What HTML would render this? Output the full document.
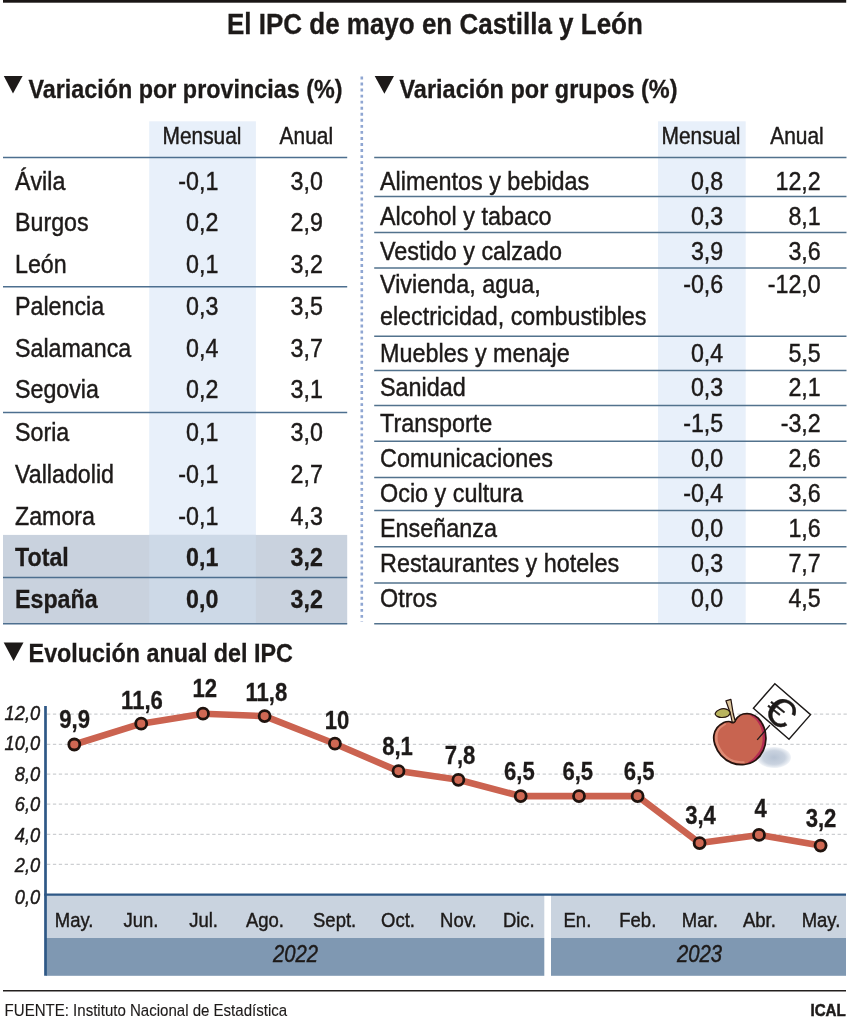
<!DOCTYPE html>
<html lang="es"><head><meta charset="utf-8"><title>El IPC de mayo en Castilla y León</title>
<style>
html,body{margin:0;padding:0;background:#fff}
svg{display:block;font-family:"Liberation Sans",sans-serif}
text{white-space:pre}
</style></head><body>
<svg width="850" height="1024" viewBox="0 0 850 1024">
<rect width="850" height="1024" fill="#fff"/>
<rect x="3" y="0" width="843.2" height="2.7" fill="#1a1615"/>
<text transform="translate(434.9 34.1) scale(0.887 1)" font-size="29.3" text-anchor="middle" fill="#1d1a19" font-weight="bold" stroke="#1d1a19" stroke-width="0.3">El IPC de mayo en Castilla y León</text>
<path d="M3.8 76 L22.6 76 L13 93.6 Z" fill="#1d1a19" stroke="none" stroke-width="0"/>
<text transform="translate(28.4 97.5) scale(0.882 1)" font-size="26.5" text-anchor="start" fill="#1d1a19" font-weight="bold" stroke="#1d1a19" stroke-width="0.3">Variación por provincias (%)</text>
<rect x="149.2" y="121.3" width="106.7" height="414" fill="#e8f0fa"/>
<rect x="3" y="534.9" width="344.2" height="89" fill="#c9d2de"/>
<rect x="149.2" y="534.9" width="106.7" height="89" fill="#cdd9e7"/>
<text transform="translate(202 143.5) scale(0.89 1)" font-size="23.5" text-anchor="middle" fill="#1d1a19" stroke="#1d1a19" stroke-width="0.45">Mensual</text>
<text transform="translate(306.3 143.5) scale(0.89 1)" font-size="23.5" text-anchor="middle" fill="#1d1a19" stroke="#1d1a19" stroke-width="0.45">Anual</text>
<text transform="translate(15 189.6) scale(0.88 1)" font-size="26.4" text-anchor="start" fill="#1d1a19" stroke="#1d1a19" stroke-width="0.45">Ávila</text>
<text transform="translate(218.4 189.6) scale(0.88 1)" font-size="26.4" text-anchor="end" fill="#1d1a19" stroke="#1d1a19" stroke-width="0.45">-0,1</text>
<text transform="translate(322.9 189.6) scale(0.88 1)" font-size="26.4" text-anchor="end" fill="#1d1a19" stroke="#1d1a19" stroke-width="0.45">3,0</text>
<text transform="translate(15 231.3) scale(0.88 1)" font-size="26.4" text-anchor="start" fill="#1d1a19" stroke="#1d1a19" stroke-width="0.45">Burgos</text>
<text transform="translate(218.4 231.3) scale(0.88 1)" font-size="26.4" text-anchor="end" fill="#1d1a19" stroke="#1d1a19" stroke-width="0.45">0,2</text>
<text transform="translate(322.9 231.3) scale(0.88 1)" font-size="26.4" text-anchor="end" fill="#1d1a19" stroke="#1d1a19" stroke-width="0.45">2,9</text>
<text transform="translate(15 273.1) scale(0.88 1)" font-size="26.4" text-anchor="start" fill="#1d1a19" stroke="#1d1a19" stroke-width="0.45">León</text>
<text transform="translate(218.4 273.1) scale(0.88 1)" font-size="26.4" text-anchor="end" fill="#1d1a19" stroke="#1d1a19" stroke-width="0.45">0,1</text>
<text transform="translate(322.9 273.1) scale(0.88 1)" font-size="26.4" text-anchor="end" fill="#1d1a19" stroke="#1d1a19" stroke-width="0.45">3,2</text>
<text transform="translate(15 315) scale(0.88 1)" font-size="26.4" text-anchor="start" fill="#1d1a19" stroke="#1d1a19" stroke-width="0.45">Palencia</text>
<text transform="translate(218.4 315) scale(0.88 1)" font-size="26.4" text-anchor="end" fill="#1d1a19" stroke="#1d1a19" stroke-width="0.45">0,3</text>
<text transform="translate(322.9 315) scale(0.88 1)" font-size="26.4" text-anchor="end" fill="#1d1a19" stroke="#1d1a19" stroke-width="0.45">3,5</text>
<text transform="translate(15 356.8) scale(0.88 1)" font-size="26.4" text-anchor="start" fill="#1d1a19" stroke="#1d1a19" stroke-width="0.45">Salamanca</text>
<text transform="translate(218.4 356.8) scale(0.88 1)" font-size="26.4" text-anchor="end" fill="#1d1a19" stroke="#1d1a19" stroke-width="0.45">0,4</text>
<text transform="translate(322.9 356.8) scale(0.88 1)" font-size="26.4" text-anchor="end" fill="#1d1a19" stroke="#1d1a19" stroke-width="0.45">3,7</text>
<text transform="translate(15 398.4) scale(0.88 1)" font-size="26.4" text-anchor="start" fill="#1d1a19" stroke="#1d1a19" stroke-width="0.45">Segovia</text>
<text transform="translate(218.4 398.4) scale(0.88 1)" font-size="26.4" text-anchor="end" fill="#1d1a19" stroke="#1d1a19" stroke-width="0.45">0,2</text>
<text transform="translate(322.9 398.4) scale(0.88 1)" font-size="26.4" text-anchor="end" fill="#1d1a19" stroke="#1d1a19" stroke-width="0.45">3,1</text>
<text transform="translate(15 440.5) scale(0.88 1)" font-size="26.4" text-anchor="start" fill="#1d1a19" stroke="#1d1a19" stroke-width="0.45">Soria</text>
<text transform="translate(218.4 440.5) scale(0.88 1)" font-size="26.4" text-anchor="end" fill="#1d1a19" stroke="#1d1a19" stroke-width="0.45">0,1</text>
<text transform="translate(322.9 440.5) scale(0.88 1)" font-size="26.4" text-anchor="end" fill="#1d1a19" stroke="#1d1a19" stroke-width="0.45">3,0</text>
<text transform="translate(15 482.8) scale(0.88 1)" font-size="26.4" text-anchor="start" fill="#1d1a19" stroke="#1d1a19" stroke-width="0.45">Valladolid</text>
<text transform="translate(218.4 482.8) scale(0.88 1)" font-size="26.4" text-anchor="end" fill="#1d1a19" stroke="#1d1a19" stroke-width="0.45">-0,1</text>
<text transform="translate(322.9 482.8) scale(0.88 1)" font-size="26.4" text-anchor="end" fill="#1d1a19" stroke="#1d1a19" stroke-width="0.45">2,7</text>
<text transform="translate(15 524.9) scale(0.88 1)" font-size="26.4" text-anchor="start" fill="#1d1a19" stroke="#1d1a19" stroke-width="0.45">Zamora</text>
<text transform="translate(218.4 524.9) scale(0.88 1)" font-size="26.4" text-anchor="end" fill="#1d1a19" stroke="#1d1a19" stroke-width="0.45">-0,1</text>
<text transform="translate(322.9 524.9) scale(0.88 1)" font-size="26.4" text-anchor="end" fill="#1d1a19" stroke="#1d1a19" stroke-width="0.45">4,3</text>
<text transform="translate(15 566.4) scale(0.88 1)" font-size="26.4" text-anchor="start" fill="#1d1a19" font-weight="bold" stroke="#1d1a19" stroke-width="0.3">Total</text>
<text transform="translate(218.4 566.4) scale(0.88 1)" font-size="26.4" text-anchor="end" fill="#1d1a19" font-weight="bold" stroke="#1d1a19" stroke-width="0.3">0,1</text>
<text transform="translate(322.9 566.4) scale(0.88 1)" font-size="26.4" text-anchor="end" fill="#1d1a19" font-weight="bold" stroke="#1d1a19" stroke-width="0.3">3,2</text>
<text transform="translate(15 608.2) scale(0.88 1)" font-size="26.4" text-anchor="start" fill="#1d1a19" font-weight="bold" stroke="#1d1a19" stroke-width="0.3">España</text>
<text transform="translate(218.4 608.2) scale(0.88 1)" font-size="26.4" text-anchor="end" fill="#1d1a19" font-weight="bold" stroke="#1d1a19" stroke-width="0.3">0,0</text>
<text transform="translate(322.9 608.2) scale(0.88 1)" font-size="26.4" text-anchor="end" fill="#1d1a19" font-weight="bold" stroke="#1d1a19" stroke-width="0.3">3,2</text>
<line x1="3" y1="157.6" x2="347.2" y2="157.6" stroke="#4d6f8f" stroke-width="1.5"/>
<line x1="3" y1="286.8" x2="347.2" y2="286.8" stroke="#4d6f8f" stroke-width="1.5"/>
<line x1="3" y1="412.6" x2="347.2" y2="412.6" stroke="#4d6f8f" stroke-width="1.5"/>
<line x1="3" y1="577.5" x2="347.2" y2="577.5" stroke="#4d6f8f" stroke-width="1.5"/>
<line x1="3" y1="623.8" x2="347.2" y2="623.8" stroke="#4d6f8f" stroke-width="1.5"/>
<line x1="361.8" y1="76.5" x2="361.8" y2="621.5" stroke="#8fa6d2" stroke-width="2.6" stroke-dasharray="2.9 3.15"/>
<path d="M374.7 76 L394 76 L384.4 93.8 Z" fill="#1d1a19" stroke="none" stroke-width="0"/>
<text transform="translate(399.5 97.5) scale(0.887 1)" font-size="26.5" text-anchor="start" fill="#1d1a19" font-weight="bold" stroke="#1d1a19" stroke-width="0.3">Variación por grupos (%)</text>
<rect x="658" y="121.3" width="87.7" height="502.5" fill="#e8f0fa"/>
<text transform="translate(701 143.5) scale(0.89 1)" font-size="23.5" text-anchor="middle" fill="#1d1a19" stroke="#1d1a19" stroke-width="0.45">Mensual</text>
<text transform="translate(797 143.5) scale(0.89 1)" font-size="23.5" text-anchor="middle" fill="#1d1a19" stroke="#1d1a19" stroke-width="0.45">Anual</text>
<text transform="translate(380 190) scale(0.886 1)" font-size="26.4" text-anchor="start" fill="#1d1a19" stroke="#1d1a19" stroke-width="0.45">Alimentos y bebidas</text>
<text transform="translate(723.2 190) scale(0.88 1)" font-size="26.4" text-anchor="end" fill="#1d1a19" stroke="#1d1a19" stroke-width="0.45">0,8</text>
<text transform="translate(820.7 190) scale(0.88 1)" font-size="26.4" text-anchor="end" fill="#1d1a19" stroke="#1d1a19" stroke-width="0.45">12,2</text>
<text transform="translate(380 224.6) scale(0.886 1)" font-size="26.4" text-anchor="start" fill="#1d1a19" stroke="#1d1a19" stroke-width="0.45">Alcohol y tabaco</text>
<text transform="translate(723.2 224.6) scale(0.88 1)" font-size="26.4" text-anchor="end" fill="#1d1a19" stroke="#1d1a19" stroke-width="0.45">0,3</text>
<text transform="translate(820.7 224.6) scale(0.88 1)" font-size="26.4" text-anchor="end" fill="#1d1a19" stroke="#1d1a19" stroke-width="0.45">8,1</text>
<text transform="translate(380 259.6) scale(0.886 1)" font-size="26.4" text-anchor="start" fill="#1d1a19" stroke="#1d1a19" stroke-width="0.45">Vestido y calzado</text>
<text transform="translate(723.2 259.6) scale(0.88 1)" font-size="26.4" text-anchor="end" fill="#1d1a19" stroke="#1d1a19" stroke-width="0.45">3,9</text>
<text transform="translate(820.7 259.6) scale(0.88 1)" font-size="26.4" text-anchor="end" fill="#1d1a19" stroke="#1d1a19" stroke-width="0.45">3,6</text>
<text transform="translate(380 293.2) scale(0.886 1)" font-size="26.4" text-anchor="start" fill="#1d1a19" stroke="#1d1a19" stroke-width="0.45">Vivienda, agua,</text>
<text transform="translate(723.2 293.2) scale(0.88 1)" font-size="26.4" text-anchor="end" fill="#1d1a19" stroke="#1d1a19" stroke-width="0.45">-0,6</text>
<text transform="translate(820.7 293.2) scale(0.88 1)" font-size="26.4" text-anchor="end" fill="#1d1a19" stroke="#1d1a19" stroke-width="0.45">-12,0</text>
<text transform="translate(380 325.2) scale(0.882 1)" font-size="26.4" text-anchor="start" fill="#1d1a19" stroke="#1d1a19" stroke-width="0.45">electricidad, combustibles</text>
<text transform="translate(380 361.7) scale(0.886 1)" font-size="26.4" text-anchor="start" fill="#1d1a19" stroke="#1d1a19" stroke-width="0.45">Muebles y menaje</text>
<text transform="translate(723.2 361.7) scale(0.88 1)" font-size="26.4" text-anchor="end" fill="#1d1a19" stroke="#1d1a19" stroke-width="0.45">0,4</text>
<text transform="translate(820.7 361.7) scale(0.88 1)" font-size="26.4" text-anchor="end" fill="#1d1a19" stroke="#1d1a19" stroke-width="0.45">5,5</text>
<text transform="translate(380 396.4) scale(0.886 1)" font-size="26.4" text-anchor="start" fill="#1d1a19" stroke="#1d1a19" stroke-width="0.45">Sanidad</text>
<text transform="translate(723.2 396.4) scale(0.88 1)" font-size="26.4" text-anchor="end" fill="#1d1a19" stroke="#1d1a19" stroke-width="0.45">0,3</text>
<text transform="translate(820.7 396.4) scale(0.88 1)" font-size="26.4" text-anchor="end" fill="#1d1a19" stroke="#1d1a19" stroke-width="0.45">2,1</text>
<text transform="translate(380 431.8) scale(0.886 1)" font-size="26.4" text-anchor="start" fill="#1d1a19" stroke="#1d1a19" stroke-width="0.45">Transporte</text>
<text transform="translate(723.2 431.8) scale(0.88 1)" font-size="26.4" text-anchor="end" fill="#1d1a19" stroke="#1d1a19" stroke-width="0.45">-1,5</text>
<text transform="translate(820.7 431.8) scale(0.88 1)" font-size="26.4" text-anchor="end" fill="#1d1a19" stroke="#1d1a19" stroke-width="0.45">-3,2</text>
<text transform="translate(380 466.6) scale(0.886 1)" font-size="26.4" text-anchor="start" fill="#1d1a19" stroke="#1d1a19" stroke-width="0.45">Comunicaciones</text>
<text transform="translate(723.2 466.6) scale(0.88 1)" font-size="26.4" text-anchor="end" fill="#1d1a19" stroke="#1d1a19" stroke-width="0.45">0,0</text>
<text transform="translate(820.7 466.6) scale(0.88 1)" font-size="26.4" text-anchor="end" fill="#1d1a19" stroke="#1d1a19" stroke-width="0.45">2,6</text>
<text transform="translate(380 502) scale(0.886 1)" font-size="26.4" text-anchor="start" fill="#1d1a19" stroke="#1d1a19" stroke-width="0.45">Ocio y cultura</text>
<text transform="translate(723.2 502) scale(0.88 1)" font-size="26.4" text-anchor="end" fill="#1d1a19" stroke="#1d1a19" stroke-width="0.45">-0,4</text>
<text transform="translate(820.7 502) scale(0.88 1)" font-size="26.4" text-anchor="end" fill="#1d1a19" stroke="#1d1a19" stroke-width="0.45">3,6</text>
<text transform="translate(380 536.8) scale(0.886 1)" font-size="26.4" text-anchor="start" fill="#1d1a19" stroke="#1d1a19" stroke-width="0.45">Enseñanza</text>
<text transform="translate(723.2 536.8) scale(0.88 1)" font-size="26.4" text-anchor="end" fill="#1d1a19" stroke="#1d1a19" stroke-width="0.45">0,0</text>
<text transform="translate(820.7 536.8) scale(0.88 1)" font-size="26.4" text-anchor="end" fill="#1d1a19" stroke="#1d1a19" stroke-width="0.45">1,6</text>
<text transform="translate(380 572.2) scale(0.886 1)" font-size="26.4" text-anchor="start" fill="#1d1a19" stroke="#1d1a19" stroke-width="0.45">Restaurantes y hoteles</text>
<text transform="translate(723.2 572.2) scale(0.88 1)" font-size="26.4" text-anchor="end" fill="#1d1a19" stroke="#1d1a19" stroke-width="0.45">0,3</text>
<text transform="translate(820.7 572.2) scale(0.88 1)" font-size="26.4" text-anchor="end" fill="#1d1a19" stroke="#1d1a19" stroke-width="0.45">7,7</text>
<text transform="translate(380 607.3) scale(0.886 1)" font-size="26.4" text-anchor="start" fill="#1d1a19" stroke="#1d1a19" stroke-width="0.45">Otros</text>
<text transform="translate(723.2 607.3) scale(0.88 1)" font-size="26.4" text-anchor="end" fill="#1d1a19" stroke="#1d1a19" stroke-width="0.45">0,0</text>
<text transform="translate(820.7 607.3) scale(0.88 1)" font-size="26.4" text-anchor="end" fill="#1d1a19" stroke="#1d1a19" stroke-width="0.45">4,5</text>
<line x1="374.2" y1="157.6" x2="846.5" y2="157.6" stroke="#52728d" stroke-width="1.5"/>
<line x1="374.2" y1="196.5" x2="846.5" y2="196.5" stroke="#52728d" stroke-width="1.5"/>
<line x1="374.2" y1="232.6" x2="846.5" y2="232.6" stroke="#52728d" stroke-width="1.5"/>
<line x1="374.2" y1="268" x2="846.5" y2="268" stroke="#52728d" stroke-width="1.5"/>
<line x1="374.2" y1="336.2" x2="846.5" y2="336.2" stroke="#52728d" stroke-width="1.5"/>
<line x1="374.2" y1="370.6" x2="846.5" y2="370.6" stroke="#52728d" stroke-width="1.5"/>
<line x1="374.2" y1="405.6" x2="846.5" y2="405.6" stroke="#52728d" stroke-width="1.5"/>
<line x1="374.2" y1="441.3" x2="846.5" y2="441.3" stroke="#52728d" stroke-width="1.5"/>
<line x1="374.2" y1="477.5" x2="846.5" y2="477.5" stroke="#52728d" stroke-width="1.5"/>
<line x1="374.2" y1="510.6" x2="846.5" y2="510.6" stroke="#52728d" stroke-width="1.5"/>
<line x1="374.2" y1="546.8" x2="846.5" y2="546.8" stroke="#52728d" stroke-width="1.5"/>
<line x1="374.2" y1="582.9" x2="846.5" y2="582.9" stroke="#52728d" stroke-width="1.5"/>
<line x1="374.2" y1="623.8" x2="846.5" y2="623.8" stroke="#52728d" stroke-width="1.5"/>
<path d="M3.7 642.4 L23.5 642.4 L13.6 661 Z" fill="#1d1a19" stroke="none" stroke-width="0"/>
<text transform="translate(28.6 662.2) scale(0.88 1)" font-size="26.5" text-anchor="start" fill="#1d1a19" font-weight="bold" stroke="#1d1a19" stroke-width="0.3">Evolución anual del IPC</text>
<line x1="47" y1="714.2" x2="847" y2="714.2" stroke="#cdcfd2" stroke-width="1.2" stroke-dasharray="3.3 2.6"/>
<line x1="47" y1="744.3" x2="847" y2="744.3" stroke="#cdcfd2" stroke-width="1.2" stroke-dasharray="3.3 2.6"/>
<line x1="47" y1="774.2" x2="847" y2="774.2" stroke="#cdcfd2" stroke-width="1.2" stroke-dasharray="3.3 2.6"/>
<line x1="47" y1="804.2" x2="847" y2="804.2" stroke="#cdcfd2" stroke-width="1.2" stroke-dasharray="3.3 2.6"/>
<line x1="47" y1="834.4" x2="847" y2="834.4" stroke="#cdcfd2" stroke-width="1.2" stroke-dasharray="3.3 2.6"/>
<line x1="47" y1="864.3" x2="847" y2="864.3" stroke="#cdcfd2" stroke-width="1.2" stroke-dasharray="3.3 2.6"/>
<text transform="translate(40.2 720.4) scale(0.88 1)" font-size="20.8" text-anchor="end" fill="#1d1a19" stroke="#1d1a19" stroke-width="0.45" font-style="italic">12,0</text>
<text transform="translate(40.2 750.4) scale(0.88 1)" font-size="20.8" text-anchor="end" fill="#1d1a19" stroke="#1d1a19" stroke-width="0.45" font-style="italic">10,0</text>
<text transform="translate(40.2 780.6) scale(0.88 1)" font-size="20.8" text-anchor="end" fill="#1d1a19" stroke="#1d1a19" stroke-width="0.45" font-style="italic">8,0</text>
<text transform="translate(40.2 811.1) scale(0.88 1)" font-size="20.8" text-anchor="end" fill="#1d1a19" stroke="#1d1a19" stroke-width="0.45" font-style="italic">6,0</text>
<text transform="translate(40.2 841.6) scale(0.88 1)" font-size="20.8" text-anchor="end" fill="#1d1a19" stroke="#1d1a19" stroke-width="0.45" font-style="italic">4,0</text>
<text transform="translate(40.2 871.7) scale(0.88 1)" font-size="20.8" text-anchor="end" fill="#1d1a19" stroke="#1d1a19" stroke-width="0.45" font-style="italic">2,0</text>
<text transform="translate(40.2 903.6) scale(0.88 1)" font-size="20.8" text-anchor="end" fill="#1d1a19" stroke="#1d1a19" stroke-width="0.45" font-style="italic">0,0</text>
<rect x="46" y="895" width="498.3" height="43" fill="#c9d3df"/>
<rect x="46" y="938" width="498.3" height="37.8" fill="#7f98b2"/>
<rect x="551" y="895" width="295" height="43" fill="#c9d3df"/>
<rect x="551" y="938" width="295" height="37.8" fill="#7f98b2"/>
<line x1="45.5" y1="706" x2="45.5" y2="975.8" stroke="#2e5886" stroke-width="2.7"/>
<line x1="44.2" y1="894.6" x2="846" y2="894.6" stroke="#2e5886" stroke-width="2.3"/>
<path d="M74.3 744.5 L141.2 723.7 L203 713.7 L264.6 716.1 L334.9 743.7 L398.5 771.1 L458.4 779.8 L520.7 796.1 L579 796.1 L637.6 796.1 L699.6 843.1 L759 834.9 L820.6 845.6" fill="none" stroke="#cb6350" stroke-width="6.6" stroke-linejoin="round" stroke-linecap="round"/>
<circle cx="74.3" cy="744.5" r="5.5" fill="#cf6853" stroke="#1f130e" stroke-width="2.8"/>
<circle cx="141.2" cy="723.7" r="5.5" fill="#cf6853" stroke="#1f130e" stroke-width="2.8"/>
<circle cx="203" cy="713.7" r="5.5" fill="#cf6853" stroke="#1f130e" stroke-width="2.8"/>
<circle cx="264.6" cy="716.1" r="5.5" fill="#cf6853" stroke="#1f130e" stroke-width="2.8"/>
<circle cx="334.9" cy="743.7" r="5.5" fill="#cf6853" stroke="#1f130e" stroke-width="2.8"/>
<circle cx="398.5" cy="771.1" r="5.5" fill="#cf6853" stroke="#1f130e" stroke-width="2.8"/>
<circle cx="458.4" cy="779.8" r="5.5" fill="#cf6853" stroke="#1f130e" stroke-width="2.8"/>
<circle cx="520.7" cy="796.1" r="5.5" fill="#cf6853" stroke="#1f130e" stroke-width="2.8"/>
<circle cx="579" cy="796.1" r="5.5" fill="#cf6853" stroke="#1f130e" stroke-width="2.8"/>
<circle cx="637.6" cy="796.1" r="5.5" fill="#cf6853" stroke="#1f130e" stroke-width="2.8"/>
<circle cx="699.6" cy="843.1" r="5.5" fill="#cf6853" stroke="#1f130e" stroke-width="2.8"/>
<circle cx="759" cy="834.9" r="5.5" fill="#cf6853" stroke="#1f130e" stroke-width="2.8"/>
<circle cx="820.6" cy="845.6" r="5.5" fill="#cf6853" stroke="#1f130e" stroke-width="2.8"/>
<text transform="translate(74.6 727.8) scale(0.88 1)" font-size="25.1" text-anchor="middle" fill="#1d1a19" font-weight="bold" stroke="#1d1a19" stroke-width="0.3">9,9</text>
<text transform="translate(142 708.8) scale(0.88 1)" font-size="25.1" text-anchor="middle" fill="#1d1a19" font-weight="bold" stroke="#1d1a19" stroke-width="0.3">11,6</text>
<text transform="translate(204.8 697.4) scale(0.88 1)" font-size="25.1" text-anchor="middle" fill="#1d1a19" font-weight="bold" stroke="#1d1a19" stroke-width="0.3">12</text>
<text transform="translate(266.3 701.2) scale(0.88 1)" font-size="25.1" text-anchor="middle" fill="#1d1a19" font-weight="bold" stroke="#1d1a19" stroke-width="0.3">11,8</text>
<text transform="translate(337 728.7) scale(0.88 1)" font-size="25.1" text-anchor="middle" fill="#1d1a19" font-weight="bold" stroke="#1d1a19" stroke-width="0.3">10</text>
<text transform="translate(397.5 755.4) scale(0.88 1)" font-size="25.1" text-anchor="middle" fill="#1d1a19" font-weight="bold" stroke="#1d1a19" stroke-width="0.3">8,1</text>
<text transform="translate(460 763.6) scale(0.88 1)" font-size="25.1" text-anchor="middle" fill="#1d1a19" font-weight="bold" stroke="#1d1a19" stroke-width="0.3">7,8</text>
<text transform="translate(519.4 780.4) scale(0.88 1)" font-size="25.1" text-anchor="middle" fill="#1d1a19" font-weight="bold" stroke="#1d1a19" stroke-width="0.3">6,5</text>
<text transform="translate(577.8 780.4) scale(0.88 1)" font-size="25.1" text-anchor="middle" fill="#1d1a19" font-weight="bold" stroke="#1d1a19" stroke-width="0.3">6,5</text>
<text transform="translate(639.2 780.4) scale(0.88 1)" font-size="25.1" text-anchor="middle" fill="#1d1a19" font-weight="bold" stroke="#1d1a19" stroke-width="0.3">6,5</text>
<text transform="translate(700.5 824.1) scale(0.88 1)" font-size="25.1" text-anchor="middle" fill="#1d1a19" font-weight="bold" stroke="#1d1a19" stroke-width="0.3">3,4</text>
<text transform="translate(760.6 816.6) scale(0.88 1)" font-size="25.1" text-anchor="middle" fill="#1d1a19" font-weight="bold" stroke="#1d1a19" stroke-width="0.3">4</text>
<text transform="translate(821 826.9) scale(0.88 1)" font-size="25.1" text-anchor="middle" fill="#1d1a19" font-weight="bold" stroke="#1d1a19" stroke-width="0.3">3,2</text>
<text transform="translate(74.1 927) scale(0.88 1)" font-size="21" text-anchor="middle" fill="#1d1a19" stroke="#1d1a19" stroke-width="0.45">May.</text>
<text transform="translate(141 927) scale(0.88 1)" font-size="21" text-anchor="middle" fill="#1d1a19" stroke="#1d1a19" stroke-width="0.45">Jun.</text>
<text transform="translate(203.6 927) scale(0.88 1)" font-size="21" text-anchor="middle" fill="#1d1a19" stroke="#1d1a19" stroke-width="0.45">Jul.</text>
<text transform="translate(265 927) scale(0.88 1)" font-size="21" text-anchor="middle" fill="#1d1a19" stroke="#1d1a19" stroke-width="0.45">Ago.</text>
<text transform="translate(334.6 927) scale(0.88 1)" font-size="21" text-anchor="middle" fill="#1d1a19" stroke="#1d1a19" stroke-width="0.45">Sept.</text>
<text transform="translate(398 927) scale(0.88 1)" font-size="21" text-anchor="middle" fill="#1d1a19" stroke="#1d1a19" stroke-width="0.45">Oct.</text>
<text transform="translate(458.4 927) scale(0.88 1)" font-size="21" text-anchor="middle" fill="#1d1a19" stroke="#1d1a19" stroke-width="0.45">Nov.</text>
<text transform="translate(518.8 927) scale(0.88 1)" font-size="21" text-anchor="middle" fill="#1d1a19" stroke="#1d1a19" stroke-width="0.45">Dic.</text>
<text transform="translate(577.4 927) scale(0.88 1)" font-size="21" text-anchor="middle" fill="#1d1a19" stroke="#1d1a19" stroke-width="0.45">En.</text>
<text transform="translate(637.8 927) scale(0.88 1)" font-size="21" text-anchor="middle" fill="#1d1a19" stroke="#1d1a19" stroke-width="0.45">Feb.</text>
<text transform="translate(699.8 927) scale(0.88 1)" font-size="21" text-anchor="middle" fill="#1d1a19" stroke="#1d1a19" stroke-width="0.45">Mar.</text>
<text transform="translate(759.4 927) scale(0.88 1)" font-size="21" text-anchor="middle" fill="#1d1a19" stroke="#1d1a19" stroke-width="0.45">Abr.</text>
<text transform="translate(821 927) scale(0.88 1)" font-size="21" text-anchor="middle" fill="#1d1a19" stroke="#1d1a19" stroke-width="0.45">May.</text>
<text transform="translate(295.4 962) scale(0.88 1)" font-size="23" text-anchor="middle" fill="#1d1a19" stroke="#1d1a19" stroke-width="0.45" font-style="italic">2022</text>
<text transform="translate(699.4 962) scale(0.88 1)" font-size="23" text-anchor="middle" fill="#1d1a19" stroke="#1d1a19" stroke-width="0.45" font-style="italic">2023</text>
<line x1="3" y1="990.8" x2="846" y2="990.8" stroke="#231f1e" stroke-width="1.6"/>
<text transform="translate(4.6 1015.5) scale(0.929 1)" font-size="16.2" text-anchor="start" fill="#1d1a19" stroke="#1d1a19" stroke-width="0.12">FUENTE: Instituto Nacional de Estadística</text>
<text transform="translate(845.8 1015.5) scale(0.935 1)" font-size="16.2" text-anchor="end" fill="#1d1a19" font-weight="bold" stroke="#1d1a19" stroke-width="0.5">ICAL</text>

<g>
<defs>
<radialGradient id="sh" cx="50%" cy="50%" r="50%"><stop offset="0" stop-color="#b7c3d4"/><stop offset="0.65" stop-color="#c9d2df"/><stop offset="1" stop-color="#f1f4f8"/></radialGradient>
<clipPath id="apc"><path d="M733.7 722.5 C732.3 723.2 730.6 721.5 729.0 721.5 C727.4 721.5 725.8 721.5 723.8 722.5 C721.9 723.5 718.9 725.5 717.2 727.6 C715.6 729.8 714.3 732.4 713.9 735.2 C713.5 738.0 713.7 741.2 714.9 744.6 C716.1 748.0 718.2 752.4 721.0 755.4 C723.8 758.5 727.9 761.4 731.8 762.9 C735.7 764.5 740.5 765.0 744.5 764.5 C748.5 764.1 752.7 762.5 755.8 760.1 C759.0 757.7 761.7 753.8 763.4 750.2 C765.0 746.7 765.8 742.7 765.9 738.9 C766.0 735.2 765.4 731.1 764.1 727.6 C762.8 724.2 760.4 720.5 758.2 718.2 C755.9 716.0 753.2 714.7 750.6 714.0 C748.1 713.3 745.3 713.5 743.1 714.0 C740.9 714.5 739.0 715.9 737.5 717.3 C735.9 718.7 735.1 721.8 733.7 722.5 Z"/></clipPath>
</defs>
<ellipse cx="774" cy="757.5" rx="17" ry="10.5" fill="url(#sh)"/>
<path d="M753.4 708.3 L774.85 683.7 L810.55 714.6 L789 739.25 Z" fill="#fff" stroke="#1d1a19" stroke-width="1.4" stroke-linejoin="miter"/>
<path d="M733.7 722.5 C732.3 723.2 730.6 721.5 729.0 721.5 C727.4 721.5 725.8 721.5 723.8 722.5 C721.9 723.5 718.9 725.5 717.2 727.6 C715.6 729.8 714.3 732.4 713.9 735.2 C713.5 738.0 713.7 741.2 714.9 744.6 C716.1 748.0 718.2 752.4 721.0 755.4 C723.8 758.5 727.9 761.4 731.8 762.9 C735.7 764.5 740.5 765.0 744.5 764.5 C748.5 764.1 752.7 762.5 755.8 760.1 C759.0 757.7 761.7 753.8 763.4 750.2 C765.0 746.7 765.8 742.7 765.9 738.9 C766.0 735.2 765.4 731.1 764.1 727.6 C762.8 724.2 760.4 720.5 758.2 718.2 C755.9 716.0 753.2 714.7 750.6 714.0 C748.1 713.3 745.3 713.5 743.1 714.0 C740.9 714.5 739.0 715.9 737.5 717.3 C735.9 718.7 735.1 721.8 733.7 722.5 Z" fill="#c86450"/>
<g clip-path="url(#apc)">
<path d="M750.6 714.0 C751.9 714.7 755.9 716.0 758.2 718.2 C760.4 720.5 762.8 724.2 764.1 727.6 C765.4 731.1 766.0 735.2 765.9 738.9 C765.8 742.7 765.0 746.7 763.4 750.2 C761.7 753.8 758.2 757.9 755.8 760.1 C753.5 762.3 750.3 762.9 749.2 763.4 L747.4 762.5 C748.4 761.8 751.3 760.4 753.5 758.2 C755.6 756.0 758.8 752.5 760.3 749.3 C761.9 746.1 762.5 742.4 762.6 738.9 C762.7 735.5 762.2 731.8 761.1 728.6 C760.0 725.4 757.8 722.0 755.8 719.6 C753.8 717.3 750.3 715.5 749.2 714.7 Z" fill="#b32c52"/>
<path d="M725.2 722.9 C724.1 723.8 719.9 726.1 718.2 728.1 C716.5 730.2 715.5 732.4 715.2 735.2 C714.8 737.9 715.0 741.3 716.1 744.6 C717.2 747.9 719.2 752.0 721.9 754.9 C724.6 757.8 728.5 760.6 732.3 762.0 C736.1 763.4 742.5 763.2 744.5 763.4 L744.5 761.5 C742.6 761.2 736.6 761.2 733.2 759.8 C729.9 758.5 726.7 756.1 724.3 753.5 C721.9 750.9 719.7 747.1 718.6 744.1 C717.5 741.1 717.5 738.2 717.7 735.6 C717.9 733.1 718.6 730.9 720.1 729.1 C721.5 727.2 725.2 725.1 726.2 724.4 Z" fill="#de8a74"/>
</g>
<path d="M733.7 722.5 C732.3 723.2 730.6 721.5 729.0 721.5 C727.4 721.5 725.8 721.5 723.8 722.5 C721.9 723.5 718.9 725.5 717.2 727.6 C715.6 729.8 714.3 732.4 713.9 735.2 C713.5 738.0 713.7 741.2 714.9 744.6 C716.1 748.0 718.2 752.4 721.0 755.4 C723.8 758.5 727.9 761.4 731.8 762.9 C735.7 764.5 740.5 765.0 744.5 764.5 C748.5 764.1 752.7 762.5 755.8 760.1 C759.0 757.7 761.7 753.8 763.4 750.2 C765.0 746.7 765.8 742.7 765.9 738.9 C766.0 735.2 765.4 731.1 764.1 727.6 C762.8 724.2 760.4 720.5 758.2 718.2 C755.9 716.0 753.2 714.7 750.6 714.0 C748.1 713.3 745.3 713.5 743.1 714.0 C740.9 714.5 739.0 715.9 737.5 717.3 C735.9 718.7 735.1 721.8 733.7 722.5 Z" fill="none" stroke="#24130e" stroke-width="1.7" stroke-linejoin="round"/>
<line x1="769.9" y1="725.1" x2="757.2" y2="739.9" stroke="#1d1a19" stroke-width="1.3"/>
<path d="M725.9 700.8 L730.9 699.4 L733.2 713.5 L735.3 721.5 L732.3 722.5 L730.4 713.5 Z" fill="#dcc59c" stroke="#24130e" stroke-width="1.2" stroke-linejoin="round"/>
<path d="M715.2 713.5 C715.5 712.4 717.4 710.5 719.1 709.8 C720.8 709.0 723.4 708.4 725.2 708.8 C727.0 709.2 729.5 710.9 729.9 712.1 C730.4 713.3 729.4 715.0 728.1 715.9 C726.7 716.8 723.7 717.4 721.9 717.5 C720.1 717.6 718.4 717.0 717.2 716.4 C716.1 715.7 714.9 714.6 715.2 713.5 Z" fill="#b9b45f" stroke="#24130e" stroke-width="1.2"/>
<text transform="translate(782.2 712.4) rotate(38) scale(1.12 1)" font-family="'WenQuanYi Zen Hei','Liberation Sans',sans-serif" font-size="40.5" text-anchor="middle" fill="#1d1a19" stroke="#1d1a19" stroke-width="0.35" y="14.2">€</text>
</g>

</svg>
</body></html>
